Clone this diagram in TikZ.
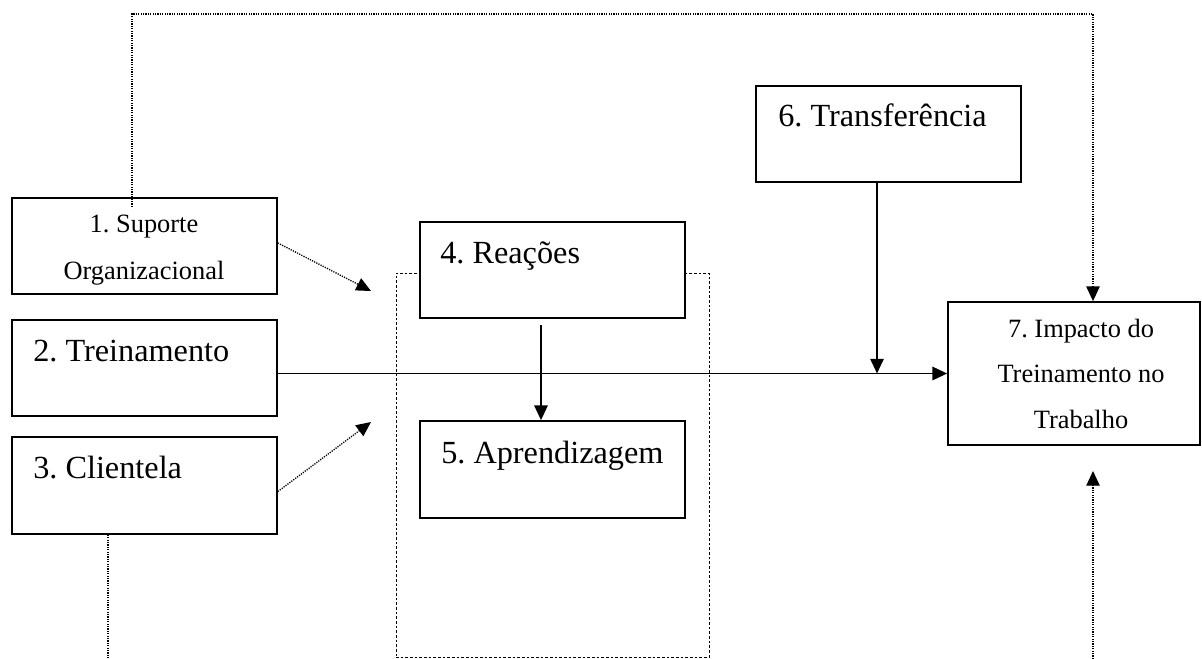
\documentclass[tikz,border=0pt]{standalone}
\usepackage{fontspec}
\setmainfont{Liberation Serif}
\usetikzlibrary{arrows.meta,fit}
\frenchspacing
\begin{document}
\begin{tikzpicture}[x=0.75pt,y=-0.75pt,
  box/.style={draw, line width=1.3pt, fill=white, inner sep=0pt},
  big/.style={anchor=base west, inner sep=0pt, font=\fontsize{24.2}{28}\selectfont},
  small/.style={anchor=base, inner sep=0pt, font=\fontsize{19.8}{24}\selectfont},
  link/.style={line width=1.4pt},
  tip/.style={-{Triangle[length=11pt,width=10pt]}},
  dots/.style={line width=1pt, dash pattern=on 0.9pt off 0.9pt},
  frame/.style={draw, line width=0.7pt, dash pattern=on 2pt off 1.5pt, inner sep=0pt}]
\useasboundingbox (0,0) rectangle (1202,659);

% dashed frame grouping reactions and learning
\node[frame, fit={(396,273) (709,657)}] (grp) {};

% boxes
\node[box, fit={(12,198) (277,294)}] (b1) {};
\node[box, fit={(12,320) (277,416)}] (b2) {};
\node[box, fit={(12,437) (277,534)}] (b3) {};
\node[box, fit={(420,222) (685,318)}] (b4) {};
\node[box, fit={(420,421) (685,518)}] (b5) {};
\node[box, fit={(756,86) (1021,182)}] (b6) {};
\node[box, fit={(948,302) (1200,445)}] (b7) {};

% labels
\node[small] (t1a) at (144,233) {1. Suporte};
\node[small] (t1b) at (144,279.5) {Organizacional};
\node[big] (t2) at (33,361) {2. Treinamento};
\node[big] (t3) at (33,478) {3. Clientela};
\node[big] (t4) at (440,263) {4. Reações};
\node[big] (t5) at (441,463) {5. Aprendizagem};
\node[big] (t6) at (778,127) {6. Transferência};
\node[small] (t7a) at (1081,337) {7. Impacto do};
\node[small] (t7b) at (1081,382.5) {Treinamento no};
\node[small] (t7c) at (1081,428) {Trabalho};

% helper points
\coordinate (s1) at (132,207);
\coordinate (tl) at (132,14);
\coordinate (tr) at (1093,14);
\coordinate (a1) at (371,291);
\coordinate (a3) at (371,422);
\coordinate (j) at (877,373.5);
\coordinate (k) at (541,325);
\coordinate (d3) at (108,659);
\coordinate (d7) at (1093,659);
\coordinate (u7) at (1093,471);

% dotted influences
\draw[dots,tip] (s1) -- (tl) -- (tr) -- (tr |- b7.north);
\draw[dots,tip] ([yshift=2.25pt]b1.east) -- (a1);
\draw[dots,tip] ([yshift=-4.5pt]b3.east) -- (a3);
\draw[dots] (d3 |- b3.south) -- (d3);
\draw[dots,tip] (d7) -- (u7);

% solid flows
\draw[link,tip] (b2.east |- b7.west) -- (b7.west);
\draw[link,tip] (b6.south -| j) -- (j);
\draw[link,tip] (k) -- (k |- b5.north);
\end{tikzpicture}
\end{document}
